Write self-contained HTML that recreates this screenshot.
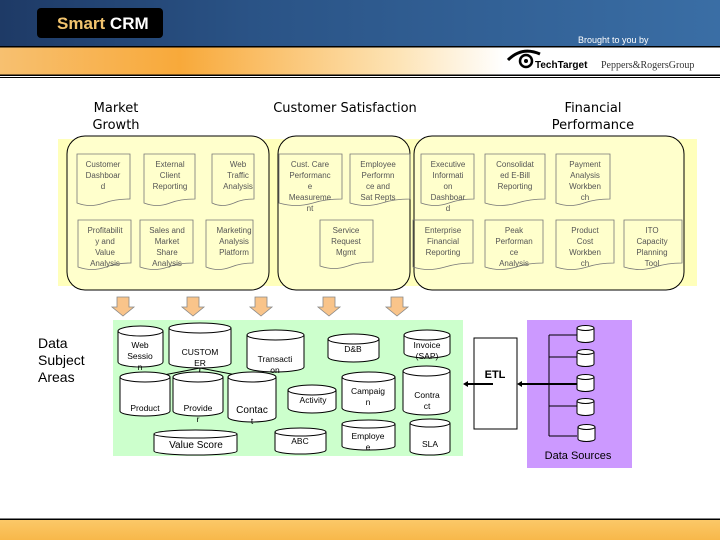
<!DOCTYPE html>
<html><head><meta charset="utf-8"><style>
html,body{margin:0;padding:0;background:#fff}
svg{display:block}
.d{font-family:"Liberation Sans",sans-serif;font-size:8px;fill:#555;text-anchor:middle}
.c{font-family:"Liberation Sans",sans-serif;font-size:8.5px;fill:#000;text-anchor:middle}
.t{font-family:"DejaVu Sans",sans-serif;font-size:13px;fill:#000;text-anchor:middle}
</style></head><body>
<svg width="720" height="540" viewBox="0 0 720 540" xmlns="http://www.w3.org/2000/svg">
<defs>
<linearGradient id="bl" x1="0" x2="1" y1="0" y2="0">
<stop offset="0" stop-color="#1e3a66"/><stop offset="0.35" stop-color="#2a5386"/><stop offset="1" stop-color="#3a6ea5"/></linearGradient>
<linearGradient id="or" x1="0" x2="1" y1="0" y2="0">
<stop offset="0" stop-color="#f7c070"/><stop offset="0.25" stop-color="#f8a93a"/><stop offset="0.55" stop-color="#fde3b4"/><stop offset="0.7" stop-color="#fff"/><stop offset="1" stop-color="#fff"/></linearGradient>
<linearGradient id="ob" x1="0" x2="0" y1="0" y2="1">
<stop offset="0" stop-color="#fbc868"/><stop offset="1" stop-color="#f8b84a"/></linearGradient>
</defs>
<!-- header -->
<rect x="0" y="0" width="720" height="46" fill="url(#bl)"/>
<rect x="0" y="46" width="720" height="1.5" fill="#000"/>
<rect x="0" y="47.5" width="720" height="27" fill="url(#or)"/>
<rect x="0" y="74.5" width="720" height="1.5" fill="#000"/>
<rect x="0" y="77" width="720" height="1" fill="#000"/>
<rect x="37" y="8" width="126" height="30" rx="4" fill="#000"/>
<text x="57" y="29" font-family="Liberation Sans,sans-serif" font-weight="bold" font-size="17" fill="#f2c46e">Smart <tspan fill="#fff">CRM</tspan></text>
<text x="578" y="43" font-family="Liberation Sans,sans-serif" font-size="9" fill="#fff">Brought to you by</text>
<path d="M508 60 Q522 46 540 54" stroke="#000" stroke-width="3" fill="none"/>
<circle cx="526" cy="61" r="6" fill="none" stroke="#000" stroke-width="2.5"/>
<circle cx="526" cy="61" r="2" fill="#000"/>
<text x="535" y="68" font-family="Liberation Sans,sans-serif" font-weight="bold" font-size="10" fill="#000">TechTarget</text>
<text x="601" y="68" font-family="Liberation Serif,serif" font-size="10" fill="#333">Peppers&amp;RogersGroup</text>
<!-- titles -->
<text class="t" x="116" y="112">Market</text><text class="t" x="116" y="129">Growth</text>
<text class="t" x="345" y="112">Customer Satisfaction</text>
<text class="t" x="593" y="112">Financial</text><text class="t" x="593" y="129">Performance</text>
<!-- yellow band -->
<rect x="58" y="139" width="639" height="147" fill="#ffffbb"/>
<rect x="67" y="136" width="202" height="154" rx="18" fill="#ffffcc" stroke="#000" stroke-width="1"/>
<rect x="278" y="136" width="132" height="154" rx="18" fill="#ffffcc" stroke="#000" stroke-width="1"/>
<rect x="414" y="136" width="270" height="154" rx="18" fill="#ffffcc" stroke="#000" stroke-width="1"/>
<g fill="none" stroke="#777" stroke-width="0.8">
<path d="M77 154H130V199Q115 199 104 203Q90 208 77 203Z"/>
<path d="M144 154H195V199Q180 199 170 203Q157 208 144 203Z"/>
<path d="M212 154H254V199Q242 199 234 203Q222 208 212 203Z"/>
<path d="M78 220H131V263Q116 263 106 267Q92 272 78 267Z"/>
<path d="M140 220H193V263Q178 263 168 267Q154 272 140 267Z"/>
<path d="M206 220H253V263Q241 263 231 267Q218 272 206 267Z"/>
<path d="M279 154H342V199Q325 199 313 203Q296 208 279 203Z"/>
<path d="M350 154H410V199Q394 199 382 203Q366 208 350 203Z"/>
<path d="M320 220H373V262Q358 262 348 266Q334 271 320 266Z"/>
<path d="M421 154H474V199Q460 199 449 203Q435 208 421 203Z"/>
<path d="M485 154H545V199Q530 199 517 203Q500 208 485 203Z"/>
<path d="M556 154H610V199Q595 199 584 203Q570 208 556 203Z"/>
<path d="M413 220H473V263Q458 263 445 267Q428 272 413 267Z"/>
<path d="M485 220H543V263Q528 263 516 267Q500 272 485 267Z"/>
<path d="M556 220H614V263Q599 263 587 267Q571 272 556 267Z"/>
<path d="M624 220H682V263Q667 263 655 267Q639 272 624 267Z"/>
</g>
<g class="d">
<text x="103" y="167">Customer</text><text x="103" y="178">Dashboar</text><text x="103" y="189">d</text>
<text x="170" y="167">External</text><text x="170" y="178">Client</text><text x="170" y="189">Reporting</text>
<text x="238" y="167">Web</text><text x="238" y="178">Traffic</text><text x="238" y="189">Analysis</text>
<text x="105" y="233">Profitabilit</text><text x="105" y="244">y and</text><text x="105" y="255">Value</text><text x="105" y="266">Analysis</text>
<text x="167" y="233">Sales and</text><text x="167" y="244">Market</text><text x="167" y="255">Share</text><text x="167" y="266">Analysis</text>
<text x="234" y="233">Marketing</text><text x="234" y="244">Analysis</text><text x="234" y="255">Platform</text>
<text x="310" y="167">Cust. Care</text><text x="310" y="178">Performanc</text><text x="310" y="189">e</text><text x="310" y="200">Measureme</text><text x="310" y="211">nt</text>
<text x="378" y="167">Employee</text><text x="378" y="178">Performn</text><text x="378" y="189">ce and</text><text x="378" y="200">Sat Repts</text>
<text x="346" y="233">Service</text><text x="346" y="244">Request</text><text x="346" y="255">Mgmt</text>
<text x="448" y="167">Executive</text><text x="448" y="178">Informati</text><text x="448" y="189">on</text><text x="448" y="200">Dashboar</text><text x="448" y="211">d</text>
<text x="515" y="167">Consolidat</text><text x="515" y="178">ed E-Bill</text><text x="515" y="189">Reporting</text>
<text x="585" y="167">Payment</text><text x="585" y="178">Analysis</text><text x="585" y="189">Workben</text><text x="585" y="200">ch</text>
<text x="443" y="233">Enterprise</text><text x="443" y="244">Financial</text><text x="443" y="255">Reporting</text>
<text x="514" y="233">Peak</text><text x="514" y="244">Performan</text><text x="514" y="255">ce</text><text x="514" y="266">Analysis</text>
<text x="585" y="233">Product</text><text x="585" y="244">Cost</text><text x="585" y="255">Workben</text><text x="585" y="266">ch</text>
<text x="652" y="233">ITO</text><text x="652" y="244">Capacity</text><text x="652" y="255">Planning</text><text x="652" y="266">Tool</text>
</g>
<!-- down arrows -->
<g fill="#f9c48a" stroke="#888" stroke-width="0.8">
<path d="M117 297h12v10h5l-11 9l-11-9h5z"/>
<path d="M187 297h12v10h5l-11 9l-11-9h5z"/>
<path d="M255 297h12v10h5l-11 9l-11-9h5z"/>
<path d="M323 297h12v10h5l-11 9l-11-9h5z"/>
<path d="M391 297h12v10h5l-11 9l-11-9h5z"/>
</g>
<text font-family="Liberation Sans,sans-serif" font-size="14" x="38" y="348">Data</text>
<text font-family="Liberation Sans,sans-serif" font-size="14" x="38" y="365">Subject</text>
<text font-family="Liberation Sans,sans-serif" font-size="14" x="38" y="382">Areas</text>
<!-- green -->
<rect x="113" y="320" width="350" height="136" fill="#ccffcc"/>
<g stroke="#000" stroke-width="1" fill="none">
<line x1="200" y1="368" x2="148" y2="378"/><line x1="200" y1="368" x2="199" y2="378"/><line x1="200" y1="368" x2="252" y2="378"/>
</g>
<g fill="#fff" stroke="#000" stroke-width="1">
<path d="M118 331v31a22.5 5 0 0 0 45 0v-31"/><ellipse cx="140.5" cy="331" rx="22.5" ry="5"/>
<path d="M169 328v35a31 5 0 0 0 62 0v-35"/><ellipse cx="200" cy="328" rx="31" ry="5"/>
<path d="M247 335v32a28.5 5 0 0 0 57 0v-32"/><ellipse cx="275.5" cy="335" rx="28.5" ry="5"/>
<path d="M328 339v18a25.5 5 0 0 0 51 0v-18"/><ellipse cx="353.5" cy="339" rx="25.5" ry="5"/>
<path d="M404 335v18a23 5 0 0 0 46 0v-18"/><ellipse cx="427" cy="335" rx="23" ry="5"/>
<path d="M120 377v34a25 5 0 0 0 50 0v-34"/><ellipse cx="145" cy="377" rx="25" ry="5"/>
<path d="M173 377v34a25 5 0 0 0 50 0v-34"/><ellipse cx="198" cy="377" rx="25" ry="5"/>
<path d="M228 377v40a24 5 0 0 0 48 0v-40"/><ellipse cx="252" cy="377" rx="24" ry="5"/>
<path d="M288 390v18a24 5 0 0 0 48 0v-18"/><ellipse cx="312" cy="390" rx="24" ry="5"/>
<path d="M342 377v31a26.5 5 0 0 0 53 0v-31"/><ellipse cx="368.5" cy="377" rx="26.5" ry="5"/>
<path d="M403 371v39a23.5 5 0 0 0 47 0v-39"/><ellipse cx="426.5" cy="371" rx="23.5" ry="5"/>
<path d="M154 434v17a41.5 4 0 0 0 83 0v-17"/><ellipse cx="195.5" cy="434" rx="41.5" ry="4"/>
<path d="M275 432v18a25.5 4 0 0 0 51 0v-18"/><ellipse cx="300.5" cy="432" rx="25.5" ry="4"/>
<path d="M342 424v22a26.5 4 0 0 0 53 0v-22"/><ellipse cx="368.5" cy="424" rx="26.5" ry="4"/>
<path d="M410 423v28a20 4 0 0 0 40 0v-28"/><ellipse cx="430" cy="423" rx="20" ry="4"/>
</g>
<g class="c">
<text x="140" y="348">Web</text><text x="140" y="359">Sessio</text><text x="140" y="370">n</text>
<text x="200" y="355">CUSTOM</text><text x="200" y="366">ER</text>
<text x="275" y="362">Transacti</text><text x="275" y="373">on</text>
<text x="353" y="352">D&amp;B</text>
<text x="427" y="348">Invoice</text><text x="427" y="359">(SAP)</text>
<text x="145" y="411">Product</text>
<text x="198" y="411">Provide</text><text x="198" y="422">r</text>
<text x="252" y="413" font-size="10">Contac</text><text x="252" y="424">t</text>
<text x="313" y="403">Activity</text>
<text x="368" y="394">Campaig</text><text x="368" y="405">n</text>
<text x="427" y="398">Contra</text><text x="427" y="409">ct</text>
<text x="196" y="448" font-size="10">Value Score</text>
<text x="300" y="444">ABC</text>
<text x="368" y="439">Employe</text><text x="368" y="450">e</text>
<text x="430" y="447">SLA</text>
</g>
<!-- ETL -->
<rect x="474" y="338" width="43" height="91" fill="#fff" stroke="#000" stroke-width="1"/>
<text x="495" y="378" font-family="Liberation Sans,sans-serif" font-weight="bold" font-size="11" text-anchor="middle">ETL</text>
<line x1="493" y1="384" x2="466" y2="384" stroke="#000" stroke-width="2"/>
<path d="M463 384l5-3v6z" fill="#000"/>
<rect x="527" y="320" width="105" height="148" fill="#cc99ff"/>
<line x1="580" y1="384" x2="520" y2="384" stroke="#000" stroke-width="2"/>
<path d="M517 384l5-3v6z" fill="#000"/>
<g stroke="#000" stroke-width="1" fill="none">
<line x1="549" y1="335" x2="549" y2="436"/>
<line x1="549" y1="335" x2="577" y2="335"/>
<line x1="549" y1="357" x2="577" y2="357"/>
<line x1="549" y1="406" x2="577" y2="406"/>
<line x1="549" y1="436" x2="577" y2="436"/>
</g>
<g fill="#fff" stroke="#000" stroke-width="1">
<path d="M577 328v12a8.5 2.5 0 0 0 17 0v-12"/><ellipse cx="585.5" cy="328" rx="8.5" ry="2.5"/>
<path d="M577 352v12a8.5 2.5 0 0 0 17 0v-12"/><ellipse cx="585.5" cy="352" rx="8.5" ry="2.5"/>
<path d="M577 377v12a8.5 2.5 0 0 0 17 0v-12"/><ellipse cx="585.5" cy="377" rx="8.5" ry="2.5"/>
<path d="M577 401v12a8.5 2.5 0 0 0 17 0v-12"/><ellipse cx="585.5" cy="401" rx="8.5" ry="2.5"/>
<path d="M578 427v12a8.5 2.5 0 0 0 17 0v-12"/><ellipse cx="586.5" cy="427" rx="8.5" ry="2.5"/>
</g>
<text x="578" y="459" font-family="Liberation Sans,sans-serif" font-size="11" text-anchor="middle">Data Sources</text>
<!-- footer -->
<rect x="0" y="518.5" width="720" height="1.5" fill="#000"/>
<rect x="0" y="520" width="720" height="20" fill="url(#ob)"/>
</svg>
</body></html>
